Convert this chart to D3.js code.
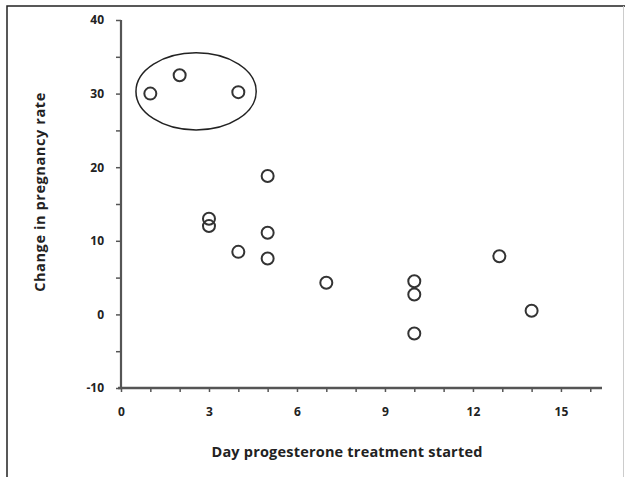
<!DOCTYPE html>
<html>
<head>
<meta charset="utf-8">
<script src="https://cdn.jsdelivr.net/npm/d3@7"></script>
<style>
  body { margin: 0; background: #fff; }
  text { font-family: "Open Sans", sans-serif; fill: #222; }
</style>
</head>
<body>
<script>
// data
var days = [1, 2, 4, 3, 3, 4, 5, 5, 5, 7, 10, 10, 10, 12.9, 14];
var changes = [30, 32.5, 30.2, 13, 12, 8.5, 18.8, 11.1, 7.6, 4.3, 4.5, 2.7, -2.6, 7.9, 0.5];
var xTicks = [0, 1, 2, 3, 4, 5, 6, 7, 8, 9, 10, 11, 12, 13, 14, 15, 16];
var xLabels = [0, 3, 6, 9, 12, 15];
var yTicks = [-10, -5, 0, 5, 10, 15, 20, 25, 30, 35, 40];
var yLabels = [-10, 0, 10, 20, 30, 40];
// circled group: centre and half-widths in data units
var ringCentre = [2.56, 30.3];
var ringHalf = [2.05, 5.25];

var svg = d3.select('body')
  .append('svg')
  .attr('width', 625)
  .attr('height', 477);

// frame
svg.append('path')
  .attr('d', 'M7,477 V6 H625')
  .attr('fill', 'none')
  .attr('stroke', '#222')
  .attr('stroke-width', 1.5);
svg.append('line')
  .attr('x1', 623.5).attr('x2', 623.5)
  .attr('y1', 6).attr('y2', 477)
  .attr('stroke', '#ccc')
  .attr('stroke-width', 1);

var x = d3.scaleLinear().domain([0, 16.4]).range([121, 602]);
var y = d3.scaleLinear().domain([-10, 40]).range([388, 20]);

// y axis
var yAxis = svg.append('g')
  .attr('transform', 'translate(121,0)')
  .call(d3.axisLeft(y)
    .tickValues(yTicks)
    .tickSize(5)
    .tickPadding(12)
    .tickFormat(function(d) { return yLabels.indexOf(d) >= 0 ? d : ''; }));
yAxis.select('.domain')
  .attr('d', 'M0,' + y(40) + 'V' + y(-10))
  .attr('stroke', '#555')
  .attr('stroke-width', 2.2);

// x axis
var xAxis = svg.append('g')
  .attr('transform', 'translate(0,388)')
  .call(d3.axisBottom(x)
    .tickValues(xTicks)
    .tickSize(4)
    .tickPadding(15)
    .tickFormat(function(d) { return xLabels.indexOf(d) >= 0 ? d : ''; }));
xAxis.select('.domain')
  .attr('d', 'M118,0H602')
  .attr('stroke', '#555')
  .attr('stroke-width', 2.5);

svg.selectAll('.tick line')
  .attr('stroke', '#555')
  .attr('stroke-width', 1.5);
svg.selectAll('.tick text')
  .attr('font-size', 12)
  .attr('font-weight', 'bold')
  .attr('fill', '#333');

// points
svg.selectAll('circle.pt')
  .data(days)
  .enter().append('circle')
  .attr('class', 'pt')
  .attr('cx', function(d, i) { return x(d); })
  .attr('cy', function(d, i) { return y(changes[i]); })
  .attr('r', 6)
  .attr('fill', 'none')
  .attr('stroke', '#333')
  .attr('stroke-width', 2);

// ring round the first three
svg.append('ellipse')
  .attr('cx', x(ringCentre[0]))
  .attr('cy', y(ringCentre[1]))
  .attr('rx', x(ringHalf[0]) - x(0))
  .attr('ry', y(0) - y(ringHalf[1]))
  .attr('fill', 'none')
  .attr('stroke', '#222')
  .attr('stroke-width', 1.5);

// titles
svg.append('text')
  .attr('x', 347)
  .attr('y', 457)
  .attr('text-anchor', 'middle')
  .attr('font-size', 14.5)
  .attr('font-weight', 'bold')
  .attr('letter-spacing', 0.2)
  .text('Day progesterone treatment started');

svg.append('text')
  .attr('transform', 'translate(45,192) rotate(-90)')
  .attr('text-anchor', 'middle')
  .attr('font-size', 14.5)
  .attr('font-weight', 'bold')
  .attr('letter-spacing', 0.6)
  .text('Change in pregnancy rate');
</script>
</body>
</html>
